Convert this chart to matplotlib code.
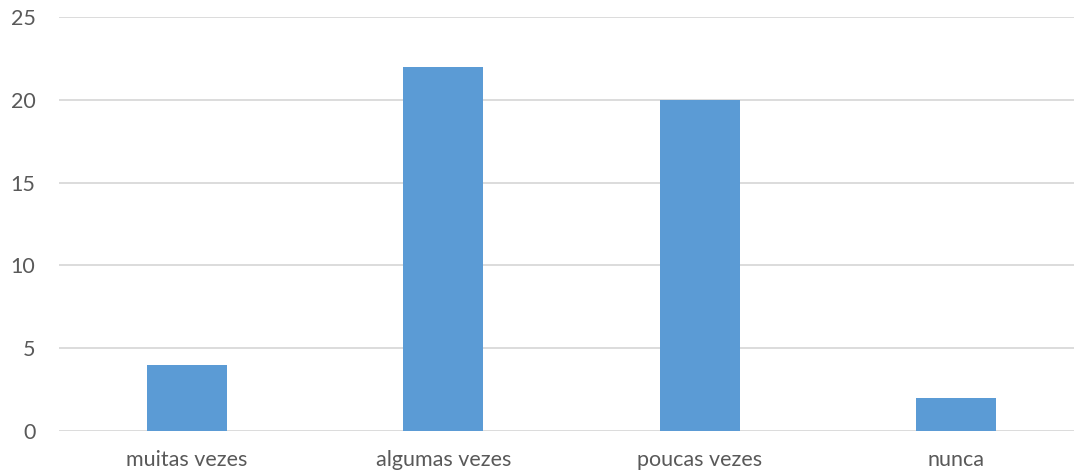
import matplotlib
matplotlib.use("Agg")
import matplotlib.pyplot as plt

categories = ["muitas vezes", "algumas vezes", "poucas vezes", "nunca"]
values = [4, 22, 20, 2]
yticks = [0, 5, 10, 15, 20, 25]

plt.rcParams['font.family'] = ['Lato', 'DejaVu Sans']

fig = plt.figure(figsize=(10.74, 4.76), dpi=100)
W, H = 1074, 476
x0, x1 = 59, 1084
y0, y1 = 431, 17
ax = fig.add_axes([x0 / W, (H - y0) / H, (x1 - x0) / W, (y0 - y1) / H])

xs = range(len(categories))
ax.bar(xs, values, width=0.312, color="#5B9BD5", zorder=3)
ax.set_xlim(-0.5, len(categories) - 0.5)
ax.set_ylim(0, 25)
ax.set_yticks(yticks)
ax.set_xticks(list(xs))
ax.set_xticklabels(categories)
ax.yaxis.grid(True, color="#D9D9D9", linewidth=1.3, zorder=0)
for s in ax.spines.values():
    s.set_visible(False)
ax.tick_params(axis='both', length=0, colors="#595959", labelsize=15.5)
ax.tick_params(axis='y', pad=17)
ax.tick_params(axis='x', pad=14)

fig.savefig("out.png", dpi=100)
